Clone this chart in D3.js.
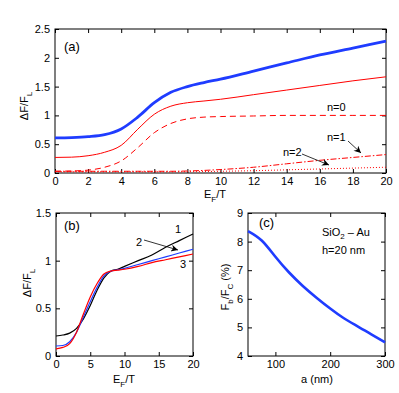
<!DOCTYPE html>
<html>
<head>
<meta charset="utf-8">
<script src="https://cdn.jsdelivr.net/npm/d3@7"></script>
<style>
body { margin: 0; background: #fff; }
text { font-family: "Liberation Sans", Arial, sans-serif; }
</style>
</head>
<body>
<script>
// panel (a) data
var aX = [0, 1, 2, 3, 4, 5, 6, 7, 8, 9, 10, 12, 14, 16, 18, 20];
var aTotalBlue = [0.61, 0.615, 0.63, 0.665, 0.765, 0.97, 1.22, 1.4, 1.5, 1.57, 1.63, 1.77, 1.91, 2.05, 2.17, 2.29];
var aTotalRed = [0.27, 0.275, 0.3, 0.36, 0.48, 0.76, 1.02, 1.16, 1.22, 1.25, 1.28, 1.36, 1.44, 1.52, 1.6, 1.67];
var aN0 = [0.03, 0.035, 0.05, 0.1, 0.21, 0.44, 0.7, 0.86, 0.94, 0.97, 0.98, 0.99, 1.0, 1.0, 1.0, 1.0];
var aN1 = [0.03, 0.03, 0.03, 0.03, 0.03, 0.03, 0.03, 0.03, 0.035, 0.045, 0.06, 0.1, 0.16, 0.22, 0.27, 0.32];
var aN2 = [0.02, 0.02, 0.02, 0.02, 0.02, 0.02, 0.02, 0.02, 0.022, 0.025, 0.03, 0.04, 0.055, 0.07, 0.085, 0.1];
var aXTicks = [0, 2, 4, 6, 8, 10, 12, 14, 16, 18, 20];
var aYTicks = [0, 0.5, 1, 1.5, 2, 2.5];

// panel (b) data
var bX = [0, 1, 2, 3, 4, 5, 6, 7, 8, 9, 10, 12, 14, 16, 18, 20];
var b1 = [0.21, 0.22, 0.24, 0.29, 0.39, 0.53, 0.69, 0.82, 0.89, 0.91, 0.94, 1.0, 1.06, 1.14, 1.21, 1.28];
var b2 = [0.105, 0.11, 0.15, 0.25, 0.41, 0.57, 0.72, 0.84, 0.89, 0.905, 0.92, 0.96, 1.0, 1.04, 1.08, 1.12];
var b3 = [0.075, 0.09, 0.13, 0.25, 0.44, 0.62, 0.76, 0.86, 0.89, 0.9, 0.91, 0.94, 0.98, 1.01, 1.04, 1.07];
var bXTicks = [0, 5, 10, 15, 20];
var bYTicks = [0, 0.5, 1, 1.5];

// panel (c) data
var cX = [50, 75, 100, 125, 150, 175, 200, 225, 250, 275, 300];
var cY = [8.37, 8.04, 7.47, 6.92, 6.45, 6.04, 5.66, 5.32, 5.04, 4.76, 4.48];
var cXTicks = [100, 200, 300];
var cYTicks = [4, 5, 6, 7, 8, 9];

var svg = d3.select("body").append("svg")
    .attr("width", 399)
    .attr("height", 393);

function panel(box, xDom, yDom, xTicks, yTicks) {
    var x = d3.scaleLinear().domain(xDom).range([box.x0, box.x1]);
    var y = d3.scaleLinear().domain(yDom).range([box.y1, box.y0]);
    var g = svg.append("g");
    g.append("g").attr("transform", "translate(0," + box.y1 + ")")
        .call(d3.axisBottom(x).tickValues(xTicks).tickSizeInner(-4).tickSizeOuter(0).tickPadding(4).tickFormat(d3.format("")));
    g.append("g").attr("transform", "translate(0," + box.y0 + ")")
        .call(d3.axisTop(x).tickValues(xTicks).tickSizeInner(-4).tickSizeOuter(0).tickFormat(""));
    g.append("g").attr("transform", "translate(" + box.x0 + ",0)")
        .call(d3.axisLeft(y).tickValues(yTicks).tickSizeInner(-4).tickSizeOuter(0).tickPadding(5).tickFormat(d3.format("")));
    g.append("g").attr("transform", "translate(" + box.x1 + ",0)")
        .call(d3.axisRight(y).tickValues(yTicks).tickSizeInner(-4).tickSizeOuter(0).tickFormat(""));
    g.selectAll(".domain").remove();
    g.selectAll(".tick text").attr("font-size", 11).attr("font-family", "Liberation Sans, Arial, sans-serif").attr("fill", "#000");
    g.append("rect").attr("x", box.x0).attr("y", box.y0)
        .attr("width", box.x1 - box.x0).attr("height", box.y1 - box.y0)
        .attr("fill", "none").attr("stroke", "#000").attr("stroke-width", 1);
    return { x: x, y: y, g: g };
}

function curve(p, xs, ys, color, width, dash, kind) {
    var line = d3.line()
        .x(function (d, i) { return p.x(xs[i]); })
        .y(function (d) { return p.y(d); })
        .curve(kind || d3.curveMonotoneX);
    var path = p.g.append("path").datum(ys)
        .attr("d", line)
        .attr("fill", "none")
        .attr("stroke", color)
        .attr("stroke-width", width);
    if (dash) path.attr("stroke-dasharray", dash);
}

function subLabel(x, y, main, sub, rest, rotate) {
    var t = svg.append("text")
        .attr("font-size", 11)
        .attr("text-anchor", "middle")
        .attr("transform", "translate(" + x + "," + y + ")" + (rotate ? " rotate(-90)" : ""));
    t.append("tspan").text(main);
    t.append("tspan").attr("font-size", 8).attr("dy", 4).text(sub);
    t.append("tspan").attr("dy", -4).text(rest);
    return t;
}

// arrow marker
svg.append("defs").append("marker")
    .attr("id", "arr").attr("viewBox", "0 0 10 10")
    .attr("refX", 10).attr("refY", 5)
    .attr("markerWidth", 9).attr("markerHeight", 7)
    .attr("markerUnits", "userSpaceOnUse")
    .attr("orient", "auto")
    .append("path").attr("d", "M0,0 L10,5 L0,10 L3,5 Z").attr("fill", "#000");

// ---- panel (a)
var pa = panel({ x0: 55, x1: 386, y0: 29, y1: 173 }, [0, 20], [0, 2.5], aXTicks, aYTicks);
curve(pa, aX, aN2, "#f00", 1, "1,2");
curve(pa, aX, aN1, "#f00", 1, "6,2,1.5,2");
curve(pa, aX, aN0, "#f00", 1, "6,4");
curve(pa, aX, aTotalRed, "#f00", 1);
curve(pa, aX, aTotalBlue, "#1f3cff", 2.8);
svg.append("text").attr("x", 64).attr("y", 51).attr("font-size", 13).text("(a)");
svg.append("text").attr("x", 327).attr("y", 111).attr("font-size", 11).text("n=0");
svg.append("text").attr("x", 327).attr("y", 141).attr("font-size", 11).text("n=1");
svg.append("text").attr("x", 283).attr("y", 156).attr("font-size", 11).text("n=2");
svg.append("line").attr("x1", 348).attr("y1", 141).attr("x2", 361).attr("y2", 153)
    .attr("stroke", "#000").attr("stroke-width", 0.8).attr("marker-end", "url(#arr)");
svg.append("line").attr("x1", 302).attr("y1", 154).attr("x2", 329).attr("y2", 165)
    .attr("stroke", "#000").attr("stroke-width", 0.8).attr("marker-end", "url(#arr)");
subLabel(28, 106, "\u0394F/F", "L", "", true);
subLabel(215, 198, "E", "F", "/T", false);

// ---- panel (b)
var pb = panel({ x0: 56, x1: 193, y0: 213, y1: 356 }, [0, 20], [0, 1.5], bXTicks, bYTicks);
curve(pb, bX, b1, "#000", 1.2);
curve(pb, bX, b2, "#1f3cff", 1.2);
curve(pb, bX, b3, "#f00", 1.2);
svg.append("text").attr("x", 64).attr("y", 230).attr("font-size", 13).text("(b)");
svg.append("text").attr("x", 175).attr("y", 233).attr("font-size", 11).text("1");
svg.append("text").attr("x", 136).attr("y", 246).attr("font-size", 11).text("2");
svg.append("text").attr("x", 180).attr("y", 268).attr("font-size", 11).text("3");
svg.append("line").attr("x1", 144).attr("y1", 240).attr("x2", 178).attr("y2", 250)
    .attr("stroke", "#000").attr("stroke-width", 0.8).attr("marker-end", "url(#arr)");
subLabel(31, 283, "\u0394F/F", "L", "", true);
subLabel(124, 383, "E", "F", "/T", false);

// ---- panel (c)
var pc = panel({ x0: 248, x1: 385, y0: 213, y1: 356 }, [50, 300], [4, 9], cXTicks, cYTicks);
curve(pc, cX, cY, "#1f3cff", 2.6, null, d3.curveNatural);
svg.append("text").attr("x", 259).attr("y", 227).attr("font-size", 13).text("(c)");
var sio = svg.append("text").attr("x", 322).attr("y", 236).attr("font-size", 11);
sio.append("tspan").text("SiO");
sio.append("tspan").attr("font-size", 8).attr("dy", 3).text("2");
sio.append("tspan").attr("dy", -3).text(" \u2013 Au");
svg.append("text").attr("x", 322).attr("y", 254).attr("font-size", 11).text("h=20 nm");
var fl = svg.append("text").attr("font-size", 11).attr("text-anchor", "middle")
    .attr("transform", "translate(229,287) rotate(-90)");
fl.append("tspan").text("F");
fl.append("tspan").attr("font-size", 8).attr("dy", 4).text("b");
fl.append("tspan").attr("dy", -4).text("/F");
fl.append("tspan").attr("font-size", 8).attr("dy", 4).text("C");
fl.append("tspan").attr("dy", -4).text(" (%)");
svg.append("text").attr("x", 317).attr("y", 383).attr("font-size", 11).attr("text-anchor", "middle").text("a (nm)");
</script>
</body>
</html>
